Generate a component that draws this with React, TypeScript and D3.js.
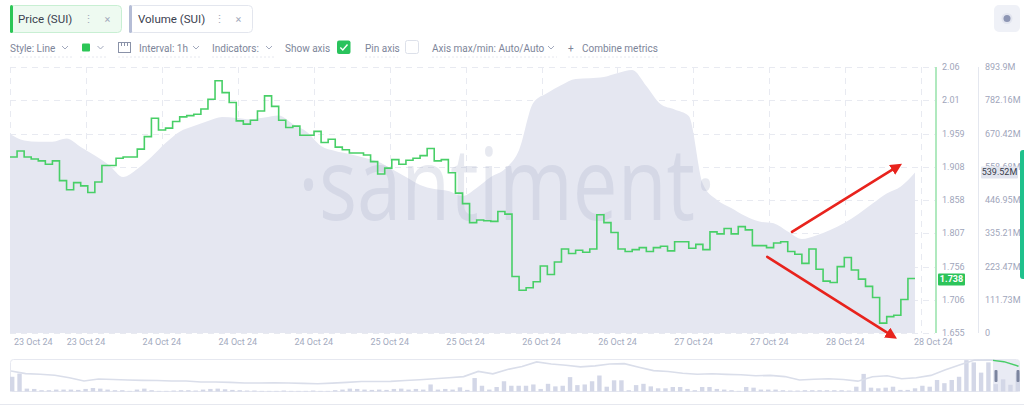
import React from 'react';
import * as d3 from 'd3';

// hourly SUI price, 23 Oct – 28 Oct 2024
const priceValues = [
  1.923, 1.932, 1.923, 1.920, 1.917, 1.912, 1.917, 1.887, 1.873, 1.884,
  1.879, 1.869, 1.885, 1.910, 1.910, 1.921, 1.923, 1.923, 1.935, 1.954,
  1.982, 1.964, 1.967, 1.977, 1.984, 1.986, 1.988, 1.996, 2.011, 2.039,
  2.021, 2.006, 1.978, 1.973, 1.979, 1.993, 2.016, 2.000, 1.979, 1.968,
  1.970, 1.956, 1.956, 1.962, 1.945, 1.950, 1.938, 1.934, 1.929, 1.929,
  1.926, 1.916, 1.897, 1.906, 1.919, 1.912, 1.918, 1.921, 1.925, 1.936,
  1.917, 1.919, 1.899, 1.868, 1.852, 1.823, 1.827, 1.826, 1.825, 1.840,
  1.836, 1.741, 1.720, 1.724, 1.733, 1.757, 1.744, 1.763, 1.783, 1.776,
  1.781, 1.778, 1.783, 1.835, 1.823, 1.808, 1.783, 1.779, 1.782, 1.785,
  1.779, 1.785, 1.787, 1.780, 1.794, 1.794, 1.784, 1.790, 1.782, 1.809,
  1.806, 1.814, 1.806, 1.817, 1.812, 1.788, 1.788, 1.785, 1.792, 1.794,
  1.779, 1.775, 1.761, 1.783, 1.752, 1.734, 1.732, 1.756, 1.770, 1.751,
  1.737, 1.726, 1.709, 1.670, 1.680, 1.682, 1.706, 1.738,
];

// volume (millions), one reading every 2 hours
const volumeValues = [
  668.7, 646.9, 642.9, 642.9, 653.6, 625.1, 596.5, 564.6, 524.2, 551.1,
  591.4, 638.5, 676.5, 695.6, 712.4, 725.9, 722.5, 718.1, 724.2, 730.9,
  702.3, 675.5, 628.4, 611.6, 601.5, 589.8, 576.3, 551.1, 524.2, 497.4,
  483.9, 477.2, 460.4, 487.3, 524.2, 551.1, 615.0, 772.9, 806.5, 833.4,
  853.6, 855.9, 860.3, 873.7, 883.8, 830.0, 769.6, 751.1, 729.2, 500.7,
  446.9, 420.1, 393.2, 374.7, 368.6, 341.1, 315.9, 327.6, 346.1, 369.7,
  399.9, 435.2, 468.8, 492.3, 539.52,
];
const volumeStep = 2;

const priceTickLabels = ['1.655', '1.706', '1.756', '1.807', '1.858', '1.908', '1.959', '2.01', '2.06'];
const volumeTickLabels = ['0', '111.73M', '223.47M', '335.21M', '446.95M', '558.68M', '670.42M', '782.16M', '893.9M'];
const dateLabels = [
  '23 Oct 24', '23 Oct 24', '24 Oct 24', '24 Oct 24', '24 Oct 24', '25 Oct 24', '25 Oct 24',
  '26 Oct 24', '26 Oct 24', '27 Oct 24', '27 Oct 24', '28 Oct 24', '28 Oct 24',
];
const gridHours = 10.74;

// arrows drawn on the chart: [hour, price] -> [hour, price]
const arrows = [
  { from: [110.6, 1.809], to: [125.6, 1.909] },
  { from: [107.1, 1.771], to: [124.9, 1.650] },
];

// navigator: longer price history and volume bars
const navPrice = [
  1.48, 1.35, 1.32, 1.27, 1.14, 0.98, 1.08, 1.05, 1.03, 1.01,
  1.00, 0.98, 0.98, 0.93, 0.93, 0.91, 0.88, 0.88, 0.89, 0.88,
  0.86, 0.84, 0.87, 0.91, 0.95, 0.95, 0.96, 1.00, 1.04, 1.09,
  1.14, 1.20, 1.46, 1.34, 1.56, 1.71, 1.94, 1.83, 1.77, 1.69,
  1.74, 1.83, 1.85, 1.67, 1.50, 1.46, 1.37, 1.32, 1.34, 1.31,
  1.29, 1.24, 1.26, 1.20, 1.03, 1.07, 1.09, 1.05, 0.97, 1.19,
  1.24, 1.09, 1.14, 1.26, 1.54, 1.79, 2.03, 2.04, 1.95, 1.72,
];
const navVolume = [
  460, 560, 90, 80, 40, 40, 60, 60, 60, 50, 80, 110, 90, 60, 40, 40, 20, 60, 90, 40,
  20, 20, 30, 40, 40, 30, 60, 80, 90, 70, 50, 40, 30, 30, 20, 20, 20, 30, 20, 20,
  20, 30, 20, 20, 40, 60, 90, 80, 60, 50, 60, 50, 80, 90, 60, 80, 60, 220, 60, 80,
  60, 130, 50, 420, 180, 60, 140, 320, 180, 180, 180, 220, 80, 240, 160, 180, 450, 200,
  220, 320, 500, 150, 350, 350, 40, 200, 240, 160, 100, 100, 140, 140, 80, 40, 140, 140,
  80, 60, 40, 20, 140, 120, 60, 60, 60, 40, 30, 30, 40, 40, 40, 40, 40, 40, 30, 150,
  550, 120, 100, 120, 150, 50, 50, 100, 180, 150, 360, 260, 360, 460, 980, 910, 590, 910,
  230, 380, 210, 590,
];

const FONT = 'Roboto, "Noto Sans", sans-serif';
const GREEN = '#2cc656';
const LINE_GREEN = '#48cf67';
const TEXT_MUTED = '#9fa6bb';

const Chevron = ({ x, y }: { x: number; y: number }) => (
  <path d={`M${x - 3},${y - 1.5} L${x},${y + 1.5} L${x + 3},${y - 1.5}`} fill="none" stroke="#a2a9bd" strokeWidth={1} />
);

export default function App() {
  const W = 1024;
  const H = 405;
  const top = 67;
  const bottom = 333;
  const left = 10;
  const plotRight = 935;
  const dataRight = 915;

  const x = d3.scaleLinear().domain([0, priceValues.length]).range([left, dataRight]);
  const yPrice = d3.scaleLinear().domain([1.655, 2.06]).range([bottom, top]);
  const yVol = d3.scaleLinear().domain([0, 893.9]).range([bottom, top]);

  const priceStep = (2.06 - 1.655) / (priceTickLabels.length - 1);
  const volStep = 893.9 / (volumeTickLabels.length - 1);

  const pricePts: [number, number][] = priceValues.map((v, i) => [i, v]);
  pricePts.push([priceValues.length, priceValues[priceValues.length - 1]]);
  const priceLine = d3.line<[number, number]>()
    .x((d) => x(d[0]))
    .y((d) => yPrice(d[1]))
    .curve(d3.curveStepAfter)(pricePts) ?? '';

  const volArea = d3.area<number>()
    .x((_, i) => x(i * volumeStep))
    .y0(bottom)
    .y1((d) => yVol(d))
    .curve(d3.curveMonotoneX)(volumeValues) ?? '';

  const gridIdx = d3.range(13).map((k) => k * gridHours);
  const dateIdx = dateLabels.map((_, k) => (k === dateLabels.length - 1 ? priceValues.length : k * gridHours));

  // navigator
  const navTop = 359.5;
  const navBottom = 391.5;
  const navX = d3.scaleLinear().domain([0, navPrice.length - 1]).range([11, 1018.5]);
  const navY = d3.scaleLinear().domain([0.45, 2.06]).range([navBottom, navTop]);
  const navBand = d3.scaleBand<number>().domain(d3.range(navVolume.length)).range([10, 1020]).paddingInner(0.4);
  const navVolY = d3.scaleLinear().domain([0, 1000]).range([navBottom, navTop]);
  const navLine = d3.line<number>().x((_, i) => navX(i)).y((d) => navY(d)).curve(d3.curveLinear)(navPrice) ?? '';
  const selX0 = 993;
  const selX1 = 1019;

  const lastPrice = priceValues[priceValues.length - 1];
  const lastVol = volumeValues[volumeValues.length - 1];

  const toolbarY = 51.5;

  return (
    <svg width={W} height={H} style={{ position: 'absolute', left: 0, top: 0, background: '#fff' }} fontFamily={FONT}>
      <defs>
        <marker id="arrowhead" viewBox="0 0 10 10" refX={6} refY={5} markerWidth={4.5} markerHeight={4.5} orient="auto">
          <path d="M0,0 L10,5 L0,10 z" fill="#e8231d" />
        </marker>
        <clipPath id="selClip">
          <rect x={selX0} y={navTop - 2} width={selX1 - selX0} height={navBottom - navTop + 4} />
        </clipPath>
      </defs>

      {/* metric tabs */}
      <g>
        <rect x={10.5} y={5.5} width={111} height={27} rx={4} fill="#eefaf1" stroke="#c8efd3" />
        <rect x={10} y={5} width={3} height={28} rx={1.5} fill={GREEN} />
        <text x={18} y={23} fontSize={11.5} fill="#3b4150">Price (SUI)</text>
        <text x={88} y={23} fontSize={11} fill="#a4abbd" textAnchor="middle">⋮</text>
        <text x={107.5} y={22.5} fontSize={11} fill="#a4abbd" textAnchor="middle">×</text>

        <rect x={129.5} y={5.5} width={123} height={27} rx={4} fill="#fff" stroke="#e3e6ee" />
        <rect x={129} y={5} width={3} height={28} rx={1.5} fill="#b5bdd6" />
        <text x={138} y={23} fontSize={11.5} fill="#3b4150">Volume (SUI)</text>
        <text x={219} y={23} fontSize={11} fill="#a4abbd" textAnchor="middle">⋮</text>
        <text x={238.5} y={22.5} fontSize={11} fill="#a4abbd" textAnchor="middle">×</text>

        <rect x={994} y={5} width={26} height={27} rx={5} fill="#eff1f7" />
        <circle cx={1007} cy={18.5} r={5.5} fill="#e2e5ef" />
        <circle cx={1007} cy={18.5} r={3.5} fill="#8d96b4" />
      </g>

      {/* settings row */}
      <g fontSize={10} fill="#7d8599">
        <text x={10} y={toolbarY}>Style: Line</text>
        <Chevron x={65} y={47.5} />
        <rect x={82} y={43.5} width={8} height={8} rx={1} fill={GREEN} />
        <Chevron x={100.5} y={47.5} />
        <g fill="none" stroke="#8a92a8" strokeWidth={1}>
          <rect x={118.5} y={42.5} width={12} height={10} />
          <line x1={121.5} x2={121.5} y1={42.5} y2={46} />
          <line x1={124.5} x2={124.5} y1={42.5} y2={46} />
          <line x1={127.5} x2={127.5} y1={42.5} y2={46} />
        </g>
        <text x={139} y={toolbarY}>Interval: 1h</text>
        <Chevron x={196} y={47.5} />
        <text x={212} y={toolbarY}>Indicators:</text>
        <Chevron x={269} y={47.5} />
        <text x={285} y={toolbarY}>Show axis</text>
        <rect x={337} y={40.5} width={13.5} height={13.5} rx={2} fill="#29c35c" />
        <path d="M340.3,47.5 L342.8,50 L347.5,44.5" fill="none" stroke="#fff" strokeWidth={1.4} />
        <text x={365} y={toolbarY}>Pin axis</text>
        <rect x={405.5} y={40.5} width={13} height={13} rx={2} fill="#fff" stroke="#dde1ea" />
        <text x={432} y={toolbarY}>Axis max/min: Auto/Auto</text>
        <Chevron x={551} y={47.5} />
        <text x={568} y={toolbarY}>+</text>
        <text x={582} y={toolbarY}>Combine metrics</text>
        <g stroke="#e6e8ef" strokeDasharray="2,2">
          <line x1={10} x2={72} y1={57} y2={57} />
          <line x1={80} x2={106} y1={57} y2={57} />
          <line x1={118} x2={202} y1={57} y2={57} />
          <line x1={212} x2={275} y1={57} y2={57} />
          <line x1={365} x2={398} y1={57} y2={57} />
          <line x1={432} x2={557} y1={57} y2={57} />
          <line x1={568} x2={658} y1={57} y2={57} />
        </g>
      </g>

      {/* grid */}
      <g stroke="#e8eaf1" strokeDasharray="6,5" strokeWidth={1}>
        {priceTickLabels.map((_, i) => {
          const yy = Math.round(yPrice(1.655 + i * priceStep)) + 0.5;
          return <line key={`h${i}`} x1={left} x2={plotRight} y1={yy} y2={yy} />;
        })}
        {gridIdx.map((g, i) => {
          const xx = Math.round(x(g)) + 0.5;
          return <line key={`v${i}`} x1={xx} x2={xx} y1={top} y2={bottom} />;
        })}
      </g>

      {/* volume area */}
      <path d={volArea} fill="#e5e7f1" />

      {/* watermark */}
      <text x={507} y={220} fontSize={100} fontWeight={400} fill="#aeb5cc" fillOpacity={0.3}
        textAnchor="middle" textLength={418} lengthAdjust="spacingAndGlyphs" fontFamily='"Open Sans", sans-serif'>
        ·santiment·
      </text>

      {/* price */}
      <path d={priceLine} fill="none" stroke={LINE_GREEN} strokeWidth={1.6} strokeLinejoin="miter" />

      {/* axes */}
      <line x1={936} x2={936} y1={top} y2={bottom} stroke="#86de9c" strokeWidth={1.3} />
      <line x1={978.5} x2={978.5} y1={top} y2={bottom} stroke="#e4e7ef" strokeWidth={1} />
      <g fontSize={9} fill={TEXT_MUTED} dominantBaseline="central">
        {priceTickLabels.map((t, i) => (
          <text key={`p${t}`} x={942} y={yPrice(1.655 + i * priceStep)}>{t}</text>
        ))}
        {volumeTickLabels.map((t, i) => (
          <text key={`v${t}`} x={985} y={yVol(i * volStep)}>{t}</text>
        ))}
      </g>
      <g>
        <rect x={938} y={yPrice(lastPrice) - 5} width={27} height={12} rx={1} fill="#2cc45a" />
        <text x={951.5} y={yPrice(lastPrice) + 1} fontSize={9} fontWeight={700} fill="#fff" textAnchor="middle" dominantBaseline="central">
          {lastPrice.toFixed(3)}
        </text>
        <rect x={981} y={yVol(lastVol) - 6} width={37} height={12} rx={1} fill="#e1e4ee" />
        <text x={999.5} y={yVol(lastVol)} fontSize={9} fill="#363b4a" textAnchor="middle" dominantBaseline="central">
          {`${lastVol.toFixed(2)}M`}
        </text>
      </g>

      {/* date labels */}
      <g fontSize={9} fill="#a4abc0">
        {dateLabels.map((d, i) => {
          const first = i === 0;
          const last = i === dateLabels.length - 1;
          return (
            <text key={`d${i}`} x={x(dateIdx[i]) + (first ? 4 : last ? -1 : 0)} y={344.5}
              textAnchor={first || last ? 'start' : 'middle'}>
              {d}
            </text>
          );
        })}
      </g>

      {/* annotation arrows */}
      <g stroke="#e8231d" strokeWidth={2.6} strokeLinecap="round">
        {arrows.map((a, i) => (
          <line key={`a${i}`} x1={x(a.from[0])} y1={yPrice(a.from[1])} x2={x(a.to[0])} y2={yPrice(a.to[1])}
            markerEnd="url(#arrowhead)" />
        ))}
      </g>

      {/* right edge indicator */}
      <rect x={1020} y={150} width={6} height={129} rx={3} fill="#1fc18c" />

      {/* navigator */}
      <rect x={10.5} y={navTop} width={1009} height={navBottom - navTop} rx={3} fill="#fff" stroke="#e6e8f0" />
      <rect x={selX0} y={navTop + 0.5} width={selX1 - selX0} height={navBottom - navTop - 1} fill="#e9ebf4" />
      <g fill="#d3d7e7">
        {navVolume.map((v, i) => (
          <rect key={`nb${i}`} x={navBand(i)} y={navVolY(v)} width={navBand.bandwidth()} height={navBottom - navVolY(v)} />
        ))}
      </g>
      <path d={navLine} fill="none" stroke="#dadeea" strokeWidth={1.6} />
      <path d={navLine} fill="none" stroke={LINE_GREEN} strokeWidth={1.4} clipPath="url(#selClip)" />
      <rect x={994.5} y={370} width={3} height={12} rx={1} fill="#7c859f" />
      <rect x={1016.5} y={370} width={3} height={12} rx={1} fill="#7c859f" />
      <line x1={0} x2={W} y1={404.5} y2={404.5} stroke="#e6e8ef" />
    </svg>
  );
}
